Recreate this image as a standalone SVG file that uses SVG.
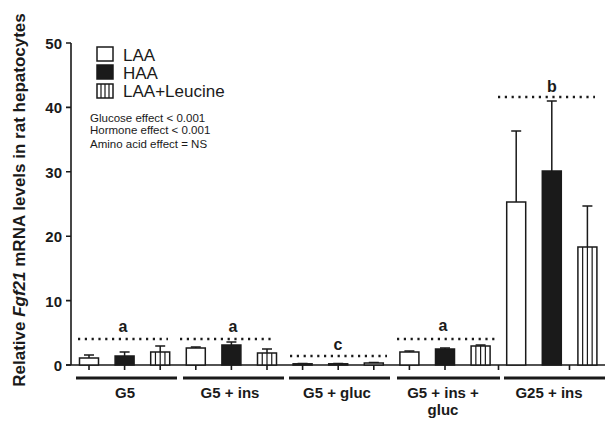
<svg xmlns="http://www.w3.org/2000/svg" width="605" height="421" viewBox="0 0 605 421">
<style>
.ax{stroke:#1a1a1a;stroke-width:1.6;fill:none}
.ul{stroke:#1a1a1a;stroke-width:3;fill:none}
.dot{stroke:#1a1a1a;stroke-width:2.4;stroke-dasharray:2.2 4.6;fill:none}
.bw{fill:#fff;stroke:#1a1a1a;stroke-width:1.5}
.bb{fill:#1a1a1a;stroke:#1a1a1a;stroke-width:1.5}
.st{stroke:#1a1a1a;stroke-width:1.2;fill:none}
.eb{stroke:#1a1a1a;stroke-width:1.5;fill:none}
.tl{font-family:"Liberation Sans",Arial,sans-serif;font-weight:bold;font-size:15px;fill:#1a1a1a}
.gl{font-family:"Liberation Sans",Arial,sans-serif;font-weight:bold;font-size:15px;fill:#1a1a1a;text-anchor:middle}
.sig{font-family:"Liberation Sans",Arial,sans-serif;font-weight:bold;font-size:16px;fill:#1a1a1a;text-anchor:middle}
.lg{font-family:"Liberation Sans",Arial,sans-serif;font-size:17px;fill:#1a1a1a}
.sm{font-family:"Liberation Sans",Arial,sans-serif;font-size:11.5px;fill:#1a1a1a}
.yl{font-family:"Liberation Sans",Arial,sans-serif;font-weight:bold;font-size:17px;fill:#1a1a1a;text-anchor:middle}
</style>
<rect width="605" height="421" fill="#fff"/>

<g id="y-axis">
<path class="ax" d="M71 43V365M66 43H71M66 107.4H71M66 171.8H71M66 236.2H71M66 300.6H71M66 365H71"/>
<g class="tl" text-anchor="end">
<text x="62" y="49">50</text>
<text x="62" y="113.4">40</text>
<text x="62" y="177.8">30</text>
<text x="62" y="242.2">20</text>
<text x="62" y="306.6">10</text>
<text x="62" y="371">0</text>
</g>
<text class="yl" transform="translate(25,200) rotate(-90)">Relative <tspan font-style="italic">Fgf21</tspan> mRNA levels in rat hepatocytes</text>
</g>

<g id="x-axis">
<path class="ax" d="M66 365H605M89 365V370M124.6 365V370M160.2 365V370M195.8 365V370M231.4 365V370M267 365V370M302.6 365V370M338.2 365V370M373.8 365V370M409.4 365V370M445 365V370M498.5 365V370M569.5 365V370"/>
<path class="ul" d="M76 378H177M183 378H284M289 378H390M397 378H500M504 378H605"/>
<text class="gl" x="125" y="398">G5</text>
<text class="gl" x="230" y="398">G5 + ins</text>
<text class="gl" x="337" y="398">G5 + gluc</text>
<text class="gl" x="443" y="398">G5 + ins +</text>
<text class="gl" x="443" y="415">gluc</text>
<text class="gl" x="549" y="398">G25 + ins</text>
</g>

<g id="legend">
<rect class="bw" x="97" y="47" width="16" height="14"/>
<rect class="bb" x="97" y="65" width="16" height="14"/>
<rect class="bw" x="97" y="84" width="16" height="14"/>
<path class="st" d="M101 84V98M105 84V98M109 84V98"/>
<text class="lg" x="123" y="61">LAA</text>
<text class="lg" x="123" y="79">HAA</text>
<text class="lg" x="123" y="97">LAA+Leucine</text>
<text class="sm" x="90" y="121.5">Glucose effect &lt; 0.001</text>
<text class="sm" x="90" y="134">Hormone effect &lt; 0.001</text>
<text class="sm" x="90" y="147.5">Amino acid effect = NS</text>
</g>

<g id="G5">
<path class="eb" d="M89 358V355M84 355H94M124.6 356V352M119.6 352H129.6M160.2 352V346M155.2 346H165.2"/>
<rect class="bw" x="79.5" y="358" width="19" height="7"/>
<rect class="bb" x="115.1" y="356" width="19" height="9"/>
<rect class="bw" x="150.7" y="352" width="19" height="13"/>
<path class="st" d="M155.45 352V365M160.2 352V365M164.95 352V365"/>
<path class="dot" d="M78 339H168"/>
<text class="sig" x="123" y="332">a</text>
</g>

<g id="G5-ins">
<path class="eb" d="M195.8 348V347M190.8 347H200.8M231.4 345V342M226.4 342H236.4M267 353V349M262 349H272"/>
<rect class="bw" x="186.3" y="348" width="19" height="17"/>
<rect class="bb" x="221.9" y="345" width="19" height="20"/>
<rect class="bw" x="257.5" y="353" width="19" height="12"/>
<path class="st" d="M262.25 353V365M267 353V365M271.75 353V365"/>
<path class="dot" d="M180 339H275"/>
<text class="sig" x="233" y="332">a</text>
</g>

<g id="G5-gluc">
<path class="eb" d="M297.6 363.5H307.6M333.2 363.5H343.2M368.8 362.5H378.8"/>
<rect class="bw" x="293.1" y="363.8" width="19" height="1.2"/>
<rect class="bb" x="328.7" y="363.8" width="19" height="1.2"/>
<rect class="bw" x="364.3" y="363" width="19" height="2"/>
<path class="dot" d="M290 356H387"/>
<text class="sig" x="338" y="350">c</text>
</g>

<g id="G5-ins-gluc">
<path class="eb" d="M409.4 352V351M404.4 351H414.4M445 349V348M440 348H450M480.6 346V345M475.6 345H485.6"/>
<rect class="bw" x="399.9" y="352" width="19" height="13"/>
<rect class="bb" x="435.5" y="349" width="19" height="16"/>
<rect class="bw" x="471.1" y="346" width="19" height="19"/>
<path class="st" d="M475.85 346V365M480.6 346V365M485.35 346V365"/>
<path class="dot" d="M397 339H495"/>
<text class="sig" x="443" y="331">a</text>
</g>

<g id="G25-ins">
<path class="eb" d="M516.2 202V131M511.2 131H521.2M551.8 171V101M546.8 101H556.8M587.4 247V206M582.4 206H592.4"/>
<rect class="bw" x="506.7" y="202" width="19" height="163"/>
<rect class="bb" x="542.3" y="171" width="19" height="194"/>
<rect class="bw" x="577.9" y="247" width="19" height="118"/>
<path class="st" d="M582.65 247V365M587.4 247V365M592.15 247V365"/>
<path class="dot" d="M498 97H595"/>
<text class="sig" x="552" y="92">b</text>
</g>
</svg>
